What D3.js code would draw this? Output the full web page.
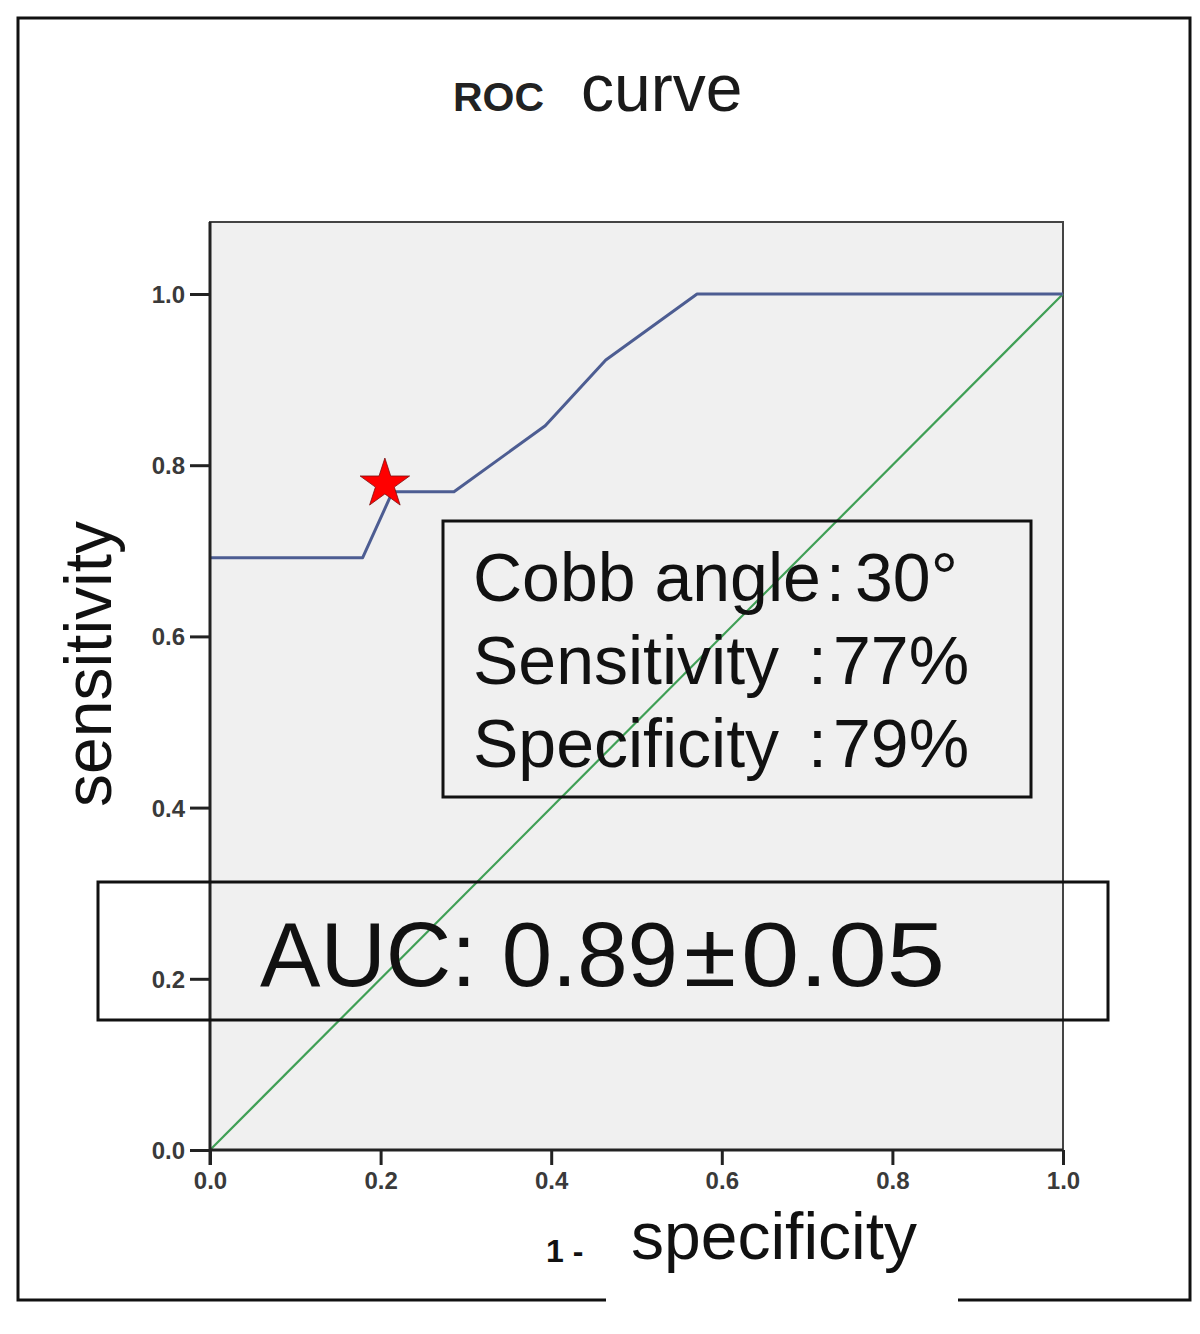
<!DOCTYPE html>
<html>
<head>
<meta charset="utf-8">
<script src="https://cdn.jsdelivr.net/npm/d3@7"></script>
<style>
  html, body { margin: 0; padding: 0; background: #fff; }
  svg { display: block; }
  text { font-family: "Liberation Sans", Arial, Helvetica, sans-serif; }
</style>
</head>
<body>
<script>
// ---- data ----
const fpr = [0, 0.179, 0.214, 0.286, 0.393, 0.464, 0.571, 1.0];          // 1 - specificity
const tpr = [0.692, 0.692, 0.769, 0.769, 0.846, 0.923, 1.0, 1.0];        // sensitivity
const refX = [0, 1];
const refY = [0, 1];
const cutoffPoint = [0.205, 0.778];
const tickValues = [0, 0.2, 0.4, 0.6, 0.8, 1.0];
const titleParts = ["ROC", "curve"];
const infoLabels = ["Cobb angle", "Sensitivity", "Specificity"];
const infoValues = ["30\u00B0", "77%", "79%"];
const aucParts = ["AUC: 0.89", "\u00B1", "0.05"];
const yLabel = "sensitivity";
const xLabelParts = ["1 -", "specificity"];

// ---- layout ----
const W = 1200, H = 1334;
const svg = d3.select("body").append("svg").attr("width", W).attr("height", H);

const x = d3.scaleLinear().domain([0, 1]).range([210, 1063]);
const y = d3.scaleLinear().domain([0, 1]).range([1150, 294]);
const plotTop = 222;

// outer frame
svg.append("rect").attr("x", 18).attr("y", 18).attr("width", 1172).attr("height", 1282)
  .attr("fill", "#fff").attr("stroke", "#111").attr("stroke-width", 3);
// gap in bottom frame under x label
svg.append("rect").attr("x", 606).attr("y", 1290).attr("width", 352).attr("height", 20).attr("fill", "#fff");

// plot background
svg.append("rect").attr("x", x(0)).attr("y", plotTop).attr("width", x(1) - x(0)).attr("height", y(0) - plotTop)
  .attr("fill", "#f0f0f0").attr("stroke", "#444").attr("stroke-width", 2);

// title
const title = svg.append("text").attr("y", 111).attr("fill", "#1a1a1a");
title.append("tspan").attr("x", 453).attr("font-size", 41).attr("font-weight", "bold").attr("fill", "#222").text(titleParts[0]);
title.append("tspan").attr("x", 581).attr("font-size", 66).text(titleParts[1]);

// reference diagonal
const line = d3.line().x(d => x(d[0])).y(d => y(d[1]));
svg.append("path").datum(d3.zip(refX, refY)).attr("d", line)
  .attr("fill", "none").attr("stroke", "#3f9f55").attr("stroke-width", 2.2);

// ROC curve
svg.append("path").datum(d3.zip(fpr, tpr)).attr("d", line)
  .attr("fill", "none").attr("stroke", "#4d5d92").attr("stroke-width", 3).attr("stroke-linejoin", "round");

// cutoff star
const R = 26;
svg.append("path")
  .attr("d", d3.symbol().type(d3.symbolStar).size(R * R / 0.8908130915292852)())
  .attr("transform", `translate(${x(cutoffPoint[0])},${y(cutoffPoint[1])})`)
  .attr("fill", "#ff0000").attr("stroke", "#7a1010").attr("stroke-width", 0.8);

// axes
const fmt = d3.format(".1f");
const gy = svg.append("g").attr("transform", `translate(${x(0)},0)`)
  .call(d3.axisLeft(y).tickValues(tickValues).tickFormat(fmt).tickSize(20).tickSizeOuter(0));
const gx = svg.append("g").attr("transform", `translate(0,${y(0)})`)
  .call(d3.axisBottom(x).tickValues(tickValues).tickFormat(fmt).tickSize(15).tickSizeOuter(0));
gy.select(".domain").attr("d", `M0,${plotTop}V${y(0) + 15}`).attr("stroke", "#222").attr("stroke-width", 3);
gx.select(".domain").attr("d", `M${x(0)},0H${x(1)}`).attr("stroke", "#222").attr("stroke-width", 3);
[gy, gx].forEach(g => {
  g.selectAll(".tick line").attr("stroke", "#222").attr("stroke-width", 3);
  g.selectAll(".tick text").attr("fill", "#3a3a3a").attr("font-size", 24).attr("font-weight", "bold")
    .attr("font-family", "\"Liberation Sans\", Arial, sans-serif");
});
gy.selectAll(".tick text").attr("x", -25).attr("dy", "0.35em");
gx.selectAll(".tick text").attr("y", 22).attr("dy", "0.71em");

// info box
svg.append("rect").attr("x", 443).attr("y", 521).attr("width", 588).attr("height", 276)
  .attr("fill", "none").attr("stroke", "#111").attr("stroke-width", 3);
const colonX = [826, 808, 808];
const valueX = [855, 833, 833];
const info = svg.selectAll("g.info").data(infoLabels).join("g").attr("class", "info");
info.append("text").attr("x", 473).attr("y", (d, i) => 601 + i * 83)
  .attr("font-size", 68).attr("fill", "#111").text(d => d);
info.append("text").attr("x", (d, i) => colonX[i]).attr("y", (d, i) => 601 + i * 83)
  .attr("font-size", 68).attr("fill", "#111").text(":");
info.append("text").attr("x", (d, i) => valueX[i]).attr("y", (d, i) => 601 + i * 83)
  .attr("font-size", 68).attr("fill", "#111").text((d, i) => infoValues[i]);

// AUC box
svg.append("rect").attr("x", 98).attr("y", 882).attr("width", 1010).attr("height", 138)
  .attr("fill", "none").attr("stroke", "#111").attr("stroke-width", 3);
const aucX = [260, 684, 741];
const aucLen = [418, 52, 204];
svg.selectAll("text.auc").data(aucParts).join("text").attr("class", "auc")
  .attr("x", (d, i) => aucX[i]).attr("y", 986)
  .attr("font-size", 90).attr("fill", "#111")
  .attr("textLength", (d, i) => aucLen[i]).attr("lengthAdjust", "spacingAndGlyphs")
  .text(d => d);

// y label
svg.append("text").attr("transform", "translate(111,664) rotate(-90)")
  .attr("text-anchor", "middle").attr("font-size", 66).attr("fill", "#111").text(yLabel);

// x label
svg.append("text").attr("x", 546).attr("y", 1262).attr("font-size", 32).attr("font-weight", "bold")
  .attr("fill", "#111").text(xLabelParts[0]);
svg.append("text").attr("x", 631).attr("y", 1259).attr("font-size", 66).attr("fill", "#111").text(xLabelParts[1]);
</script>
</body>
</html>
